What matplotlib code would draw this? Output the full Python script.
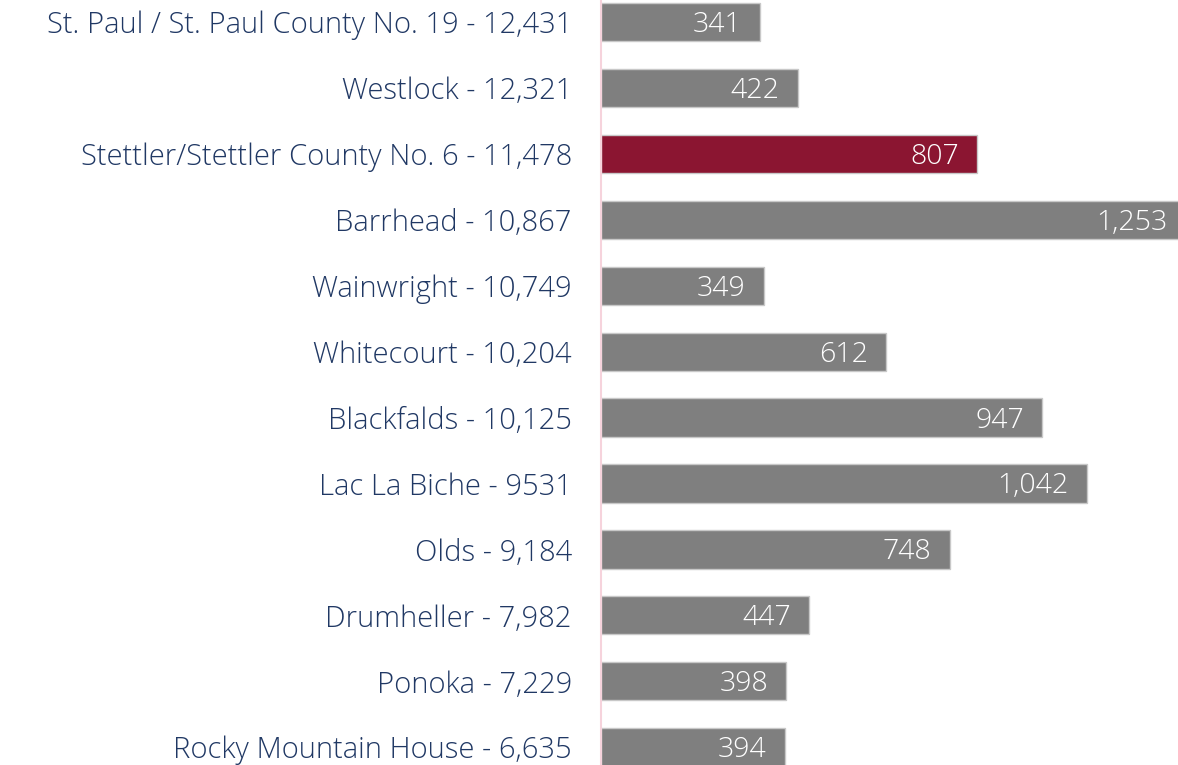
import numpy as np
import matplotlib.pyplot as plt

labels = ['St. Paul / St. Paul County No. 19 - 12,431', 'Westlock - 12,321',
          'Stettler/Stettler County No. 6 - 11,478', 'Barrhead - 10,867',
          'Wainwright - 10,749', 'Whitecourt - 10,204', 'Blackfalds - 10,125',
          'Lac La Biche - 9531', 'Olds - 9,184', 'Drumheller - 7,982',
          'Ponoka - 7,229', 'Rocky Mountain House - 6,635']
values = [341, 422, 807, 1253, 349, 612, 947, 1042, 748, 447, 398, 394]
highlight = 'Stettler/Stettler County No. 6 - 11,478'

plt.rcParams['font.family'] = ['Open Sans', 'DejaVu Sans']

fig = plt.figure(figsize=(11.78, 7.65), dpi=100)
ax = fig.add_axes([601/1178, 0, 1 - 601/1178, 1])

y = np.arange(len(labels))
colors = ['#8B1531' if l == highlight else '#7F7F7F' for l in labels]
ax.barh(y, values, height=0.58, color=colors, edgecolor='#C8C8C8', linewidth=1)

# value labels sit inside the bar end; Barrhead runs past the axes edge
for yi, v in zip(y, values):
    ax.annotate(f'{v:,}', (v, yi), xytext=(-18, -3), textcoords='offset pixels',
                ha='right', va='center', color='white', fontsize=20.5,
                fontweight='light', annotation_clip=False)

ax.set_yticks(y)
ax.set_yticklabels(labels, fontsize=21, color='#203864', fontweight='light')
ax.tick_params(axis='y', length=0, pad=21)
ax.set_xticks([])
ax.set_xlim(0, 1238)
ax.set_ylim(11.27, -0.334)
for s in ['top', 'right', 'bottom']:
    ax.spines[s].set_visible(False)
ax.spines['left'].set_color('#F6D3DC')
ax.spines['left'].set_linewidth(1.5)

plt.savefig('out.png', dpi=100)
